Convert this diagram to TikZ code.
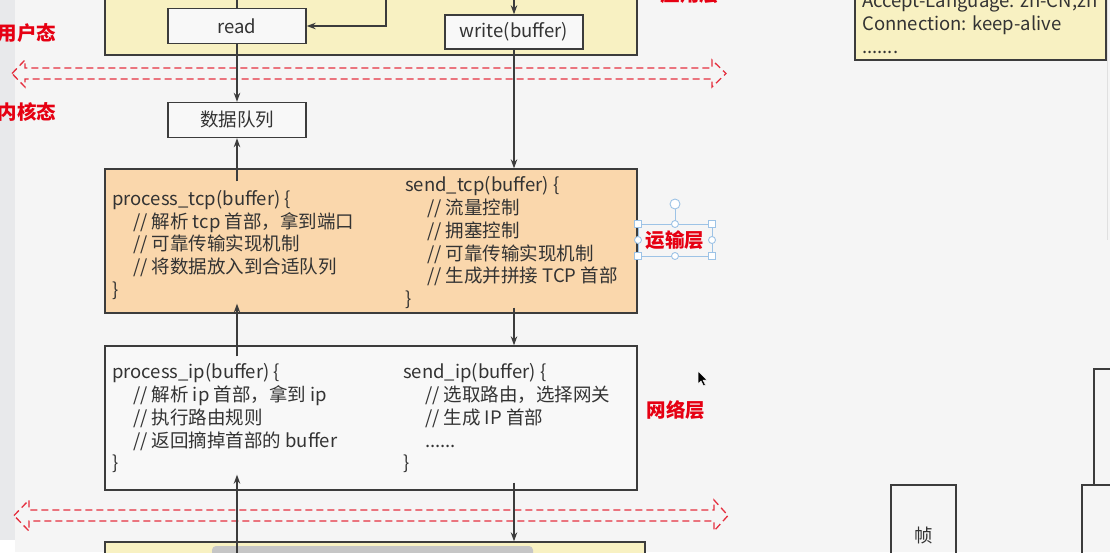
\documentclass[tikz,border=0pt]{standalone}
\usepackage{fontspec}
\setmainfont{Noto Sans CJK SC}
\usetikzlibrary{arrows.meta,positioning}

\definecolor{bgcol}{HTML}{F5F5F5}
\definecolor{stripcol}{HTML}{E8E9EB}
\definecolor{boxline}{HTML}{3C3C3C}
\definecolor{txt}{HTML}{333333}
\definecolor{appyellow}{HTML}{F8F1C2}
\definecolor{tcporange}{HTML}{FAD7AC}
\definecolor{ipfill}{HTML}{F8F8F8}
\definecolor{tagred}{HTML}{E60012}
\definecolor{dashred}{HTML}{E5303F}
\definecolor{selblue}{HTML}{9DC3E6}
\definecolor{barcol}{HTML}{C6C6C6}

\tikzset{
  box/.style={draw=boxline, line width=1.4pt, inner sep=0pt},
  fnbox/.style={box, fill=ipfill, minimum width=138pt, minimum height=35pt,
    text=txt, font=\fontsize{18.5}{20}\selectfont},
  code/.style={anchor=north west, align=left, inner sep=0pt, text=txt,
    font=\fontsize{18.5}{22.75}\selectfont},
  tag/.style={text=tagred, inner sep=0pt, font=\fontsize{19.5}{21}\selectfont\bfseries},
  arr/.style={-{Stealth[length=9pt,width=6.5pt]}, line width=1.1pt, draw=boxline},
  plain/.style={line width=1.1pt, draw=boxline},
  border/.style={draw=dashred, line width=1.3pt, dash pattern=on 7pt off 4pt},
  handle/.style={draw=selblue, fill=white, line width=0.9pt},
}

\begin{document}
\begin{tikzpicture}[x=1pt,y=-1pt]
\clip (0,0) rectangle (1110,552);
\fill[bgcol] (0,0) rectangle (1110,552);
\fill[stripcol] (0,0) rectangle (15,540);
\fill[white] (0,540) rectangle (15,552);

% application layer
\node[box, fill=appyellow, minimum width=532pt, minimum height=90pt] (app) at (371,10) {};
\node[fnbox] (read) at (237,26) {read};
\node[fnbox, minimum height=34pt] (write) at (514,32) {write(buffer)};
\node[tag] (applbl) at (690,-6) {应用层};
\coordinate (rtop) at (237,-10);
\coordinate (loop) at (386,-10);
\coordinate (wtop) at (514,-10);

% http header box
\node[box, fill=appyellow, minimum width=251pt, minimum height=100pt] (hdr) at (980.5,10) {};
\node[code, font=\fontsize{18.5}{23}\selectfont] (hdrtxt) at (862,-7) {Accept-Language: zh-CN,zh\\ Connection: keep-alive\\ .......};
\draw[draw=black!12, line width=1pt] (1107,0) -- (1107,240);

% user / kernel border
\draw[border] (12,73.5) -- (25,60) -- (25,68) -- (712,68) -- (712,60) -- (726,73.5)
  -- (712,87) -- (712,79) -- (25,79) -- (25,87) -- cycle;
\node[tag] (user) at (27,33) {用户态};
\node[tag] (kern) at (27,112) {内核态};

\node[fnbox] (dq) at (237,120) {数据队列};

% transport layer
\node[box, fill=tcporange, minimum width=532pt, minimum height=144pt] (tcp) at (371,241) {};
\node[code] (tcpin) at (112,190) {process\_tcp(buffer) \{\\
  \hspace*{21pt}// 解析 tcp 首部，拿到端口\\
  \hspace*{21pt}// 可靠传输实现机制\\
  \hspace*{21pt}// 将数据放入到合适队列\\
  \}};
\node[code] (tcpout) at (405,176.5) {send\_tcp(buffer) \{\\
  \hspace*{22pt}// 流量控制\\
  \hspace*{22pt}// 拥塞控制\\
  \hspace*{22pt}// 可靠传输实现机制\\
  \hspace*{22pt}// 生成并拼接 TCP 首部\\
  \}};
\draw[selblue, line width=0.8pt] (638,224) rectangle (712,256);
\draw[selblue, line width=0.8pt] (675,209) -- (675,224);
\node[tag] (tcplbl) at (675,240) {运输层};
\foreach \hx/\hy in {638/224, 712/224, 638/256, 712/256}
  \draw[handle] (\hx-3.5,\hy-3.5) rectangle (\hx+3.5,\hy+3.5);
\foreach \hx/\hy in {675/224, 675/256, 638/240, 712/240}
  \draw[handle] (\hx,\hy) circle (3.5pt);
\draw[handle] (675,204) circle (5pt);

% network layer
\node[box, fill=ipfill, minimum width=532pt, minimum height=144pt] (ip) at (371,418) {};
\node[code] (ipin) at (112,363.5) {process\_ip(buffer) \{\\
  \hspace*{21pt}// 解析 ip 首部，拿到 ip\\
  \hspace*{21pt}// 执行路由规则\\
  \hspace*{21pt}// 返回摘掉首部的 buffer\\
  \}};
\node[code] (ipout) at (403,363.5) {send\_ip(buffer) \{\\
  \hspace*{22pt}// 选取路由，选择网关\\
  \hspace*{22pt}// 生成 IP 首部\\
  \hspace*{22pt}......\\
  \}};
\node[tag] (iplbl) at (676,410) {网络层};

% kernel / hardware border
\draw[border] (14,515.5) -- (29,500) -- (29,510) -- (714,510) -- (714,500) -- (728,515.5)
  -- (714,531) -- (714,521) -- (29,521) -- (29,531) -- cycle;

% link layer (cut off)
\node[box, fill=appyellow, minimum width=540pt, minimum height=40pt] (link) at (375,562) {};
\fill[barcol, rounded corners=4pt] (212,546) rectangle (533,560);

% connectors
\draw[plain] (rtop) -- (read.north);
\draw[arr] (loop) |- (read.east);
\draw[arr] (wtop) -- (write.north);
\draw[arr] (read.south) -- (dq.north);
\draw[arr, shorten <=-13pt] (tcp.north -| dq.south) -- (dq.south);
\draw[arr] (write.south) -- (write.south |- tcp.north);
\draw[arr, shorten <=-6pt] (tcp.south -| write.south) -- (ip.north -| write.south);
\draw[arr, shorten <=-11pt, shorten >=-10pt] (ip.north -| dq.south) -- (tcp.south -| dq.south);
\draw[arr, shorten <=-12pt, shorten >=-16pt] (link.north -| dq.south) -- (ip.south -| dq.south);
\draw[arr, shorten <=-8pt] (ip.south -| write.south) -- (link.north -| write.south);

% frame boxes at right
\node[box, minimum width=65pt, minimum height=100pt, text=txt,
  font=\fontsize{18.5}{20}\selectfont] (frm) at (923.5,535) {帧};
\draw[box] (1094,369) rectangle (1140,485);
\draw[box] (1082,485) rectangle (1140,600);

% mouse pointer
\draw[fill=black, draw=white, line width=0.5pt] (698,371) -- (698,384) -- (701,381)
  -- (703.5,386) -- (705.5,385) -- (703,380) -- (707,380) -- cycle;
\end{tikzpicture}
\end{document}
